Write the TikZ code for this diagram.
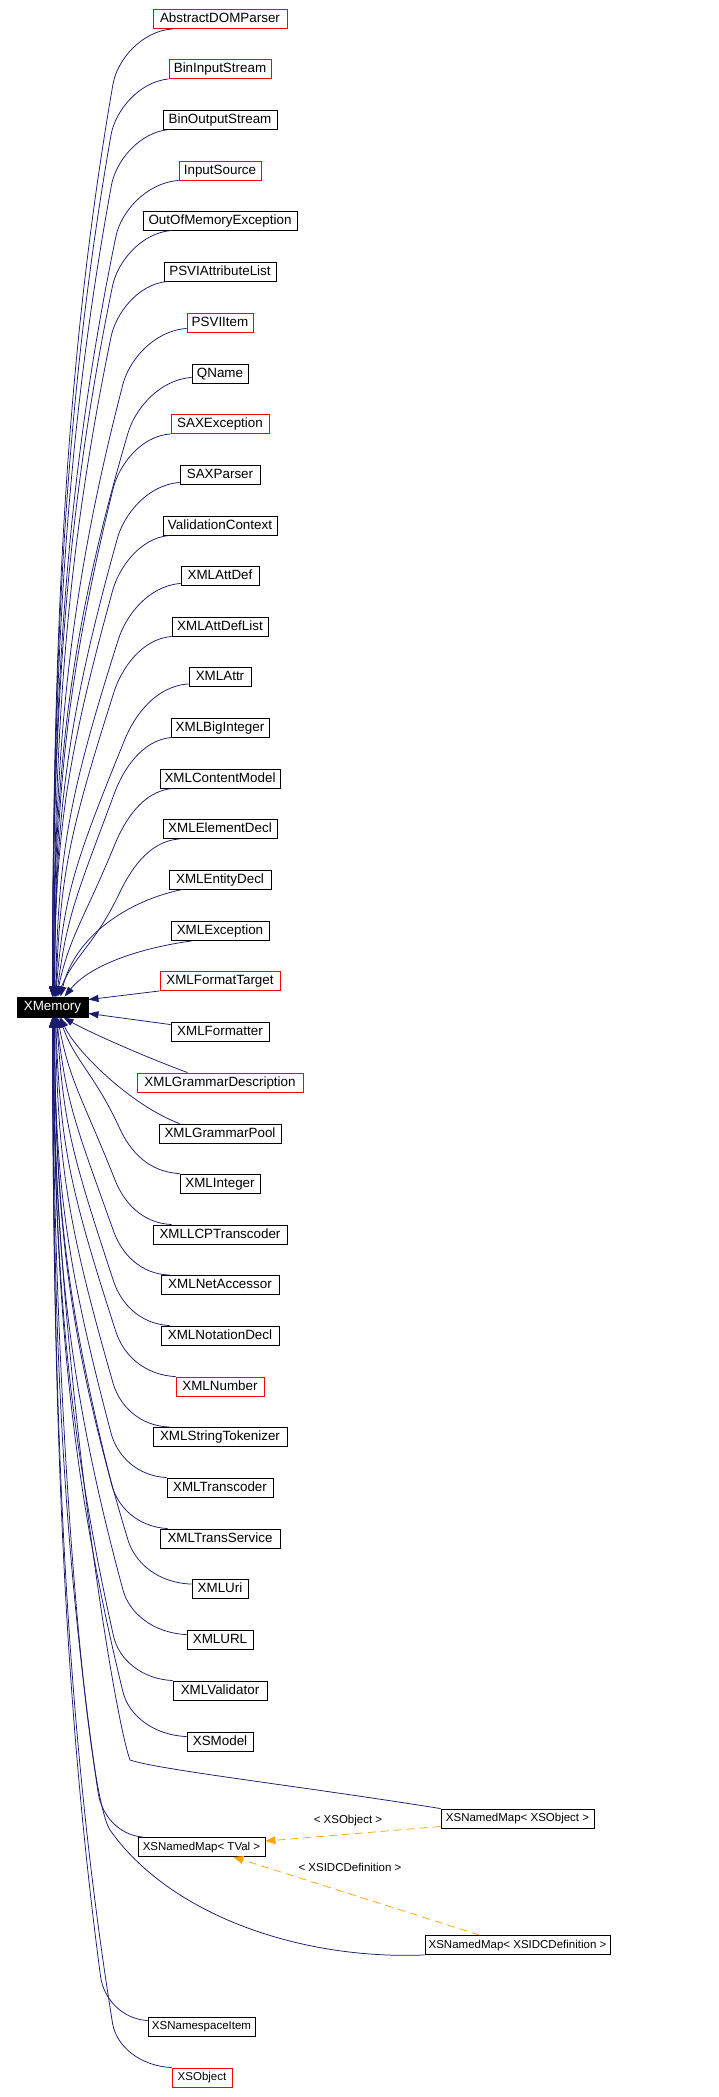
\documentclass[tikz,border=0pt]{standalone}
\usepackage{fontspec}
\setmainfont{Liberation Sans}
\usetikzlibrary{arrows.meta}
\definecolor{edgeblue}{HTML}{191970}
\definecolor{edgeorange}{HTML}{FFA500}
\definecolor{boxred}{HTML}{FF0000}
% edge from a node above XMemory: #1 start, #2 #3 start (image coords), #4 end x, #5 end
\newcommand\fanup[5]{%
 \pgfmathsetmacro\fW{min(64,0.5*(#2-#4))}%
 \pgfmathsetmacro\fTx{#2-\fW}%
 \pgfmathsetmacro\fTy{#3+56}%
 \pgfmathsetmacro\fAx{#2-0.53*\fW}%
 \pgfmathsetmacro\fAy{#3+3}%
 \pgfmathsetmacro\fD{997-\fTy}%
 \pgfmathsetmacro\fUx{#4-\fTx}%
 \pgfmathsetmacro\fUy{100+0.27*\fD}%
 \pgfmathsetmacro\fUl{veclen(\fUx,\fUy)}%
 \pgfmathsetmacro\fBx{\fTx-\fUx/\fUl*24}%
 \pgfmathsetmacro\fBy{\fTy-\fUy/\fUl*24}%
 \pgfmathsetmacro\fK{min(0.8,0.5*\fD/\fUy)}%
 \pgfmathsetmacro\fCx{\fTx+\fK*\fUx}%
 \pgfmathsetmacro\fCy{\fTy+\fK*\fUy}%
 \pgfmathsetmacro\fF{max(0,1-\fD/400)}%
 \pgfmathsetmacro\fDx{#4-\fF*0.35*\fUx}%
 \pgfmathsetmacro\fDy{997-0.4*\fD}%
 \draw[edge] #1 .. controls (\fAx,\fAy) and (\fBx,\fBy) .. (\fTx,\fTy)
   .. controls (\fCx,\fCy) and (\fDx,\fDy) .. #5;%
}
% edge from a node below XMemory
\newcommand\fandown[5]{%
 \pgfmathsetmacro\fW{min(64,0.5*(#2-#4))}%
 \pgfmathsetmacro\fTx{#2-\fW}%
 \pgfmathsetmacro\fTy{#3-45}%
 \pgfmathsetmacro\fAx{#2-0.53*\fW}%
 \pgfmathsetmacro\fAy{#3-2}%
 \pgfmathsetmacro\fD{\fTy-1017}%
 \pgfmathsetmacro\fUx{#4-\fTx}%
 \pgfmathsetmacro\fUy{100+0.27*\fD}%
 \pgfmathsetmacro\fUl{veclen(\fUx,\fUy)}%
 \pgfmathsetmacro\fBx{\fTx-\fUx/\fUl*24}%
 \pgfmathsetmacro\fBy{\fTy+\fUy/\fUl*24}%
 \pgfmathsetmacro\fK{min(0.8,0.5*\fD/\fUy)}%
 \pgfmathsetmacro\fCx{\fTx+\fK*\fUx}%
 \pgfmathsetmacro\fCy{\fTy-\fK*\fUy}%
 \pgfmathsetmacro\fF{max(0,1-\fD/400)}%
 \pgfmathsetmacro\fDx{#4-\fF*0.35*\fUx}%
 \pgfmathsetmacro\fDy{1017+0.4*\fD}%
 \draw[edge] #1 .. controls (\fAx,\fAy) and (\fBx,\fBy) .. (\fTx,\fTy)
   .. controls (\fCx,\fCy) and (\fDx,\fDy) .. #5;%
}
\begin{document}
\begin{tikzpicture}[x=1pt,y=-1pt,
  cls/.style={draw=black, line width=0.9pt, minimum height=19pt, inner xsep=1pt, inner ysep=0pt,
    font=\fontsize{13.4}{15}\selectfont, text height=9.7pt, text depth=2.6pt},
  redcls/.style={cls, draw=boxred},
  smallfont/.style={font=\fontsize{11.5}{14}\selectfont, text height=8.5pt, text depth=2.3pt},
  edge/.style={draw=edgeblue, line width=0.75pt, -{Triangle[length=10pt,width=7pt]}},
  dashedge/.style={draw=edgeorange, line width=0.75pt, dash pattern=on 8pt off 5pt, -{Triangle[length=10pt,width=8pt,fill=edgeorange]}},
  lbl/.style={inner sep=0pt, font=\fontsize{11.5}{14}\selectfont}
]
\useasboundingbox (0,0) rectangle (718,2097);

% root
\node[cls, fill=black, text=white, minimum width=71pt, minimum height=20pt] (xm) at (52.5,1007) {XMemory};

% left column
\node[redcls, minimum width=134pt] (adp)  at (220,19)    {AbstractDOMParser};
\node[redcls, minimum width=102pt] (bis)  at (220,69)    {BinInputStream};
\node[cls,    minimum width=114pt] (bos)  at (220,119.5) {BinOutputStream};
\node[redcls, minimum width=82pt]  (ins)  at (220,170.5) {InputSource};
\node[cls,    minimum width=154pt] (oome) at (220,220.5) {OutOfMemoryException};
\node[cls,    minimum width=112pt] (psal) at (220,271.5) {PSVIAttributeList};
\node[redcls, minimum width=66pt]  (psi)  at (220,322.5) {PSVIItem};
\node[cls,    minimum width=56pt]  (qn)   at (220,373.5) {QName};
\node[redcls, minimum width=98pt]  (saxe) at (220,424)   {SAXException};
\node[cls,    minimum width=80pt]  (saxp) at (220,474.5) {SAXParser};
\node[cls,    minimum width=114pt] (vc)   at (220,525.5) {ValidationContext};
\node[cls,    minimum width=78pt]  (ad)   at (220,575.5) {XMLAttDef};
\node[cls,    minimum width=96pt]  (adl)  at (220,626.5) {XMLAttDefList};
\node[cls,    minimum width=62pt]  (attr) at (220,677)   {XMLAttr};
\node[cls,    minimum width=98pt]  (bigi) at (220,727.5) {XMLBigInteger};
\node[cls,    minimum width=120pt] (cm)   at (220,778.5) {XMLContentModel};
\node[cls,    minimum width=114pt] (ed)   at (220,829)   {XMLElementDecl};
\node[cls,    minimum width=102pt] (ent)  at (220,879.5) {XMLEntityDecl};
\node[cls,    minimum width=98pt]  (exc)  at (220,931)   {XMLException};
\node[redcls, minimum width=120pt] (fmt)  at (220,981)   {XMLFormatTarget};
\node[cls,    minimum width=98pt]  (fmtr) at (220,1031.5){XMLFormatter};
\node[redcls, minimum width=166pt] (gd)   at (220,1082.5){XMLGrammarDescription};
\node[cls,    minimum width=122pt] (gp)   at (220,1133.5){XMLGrammarPool};
\node[cls,    minimum width=80pt]  (int)  at (220,1183.5){XMLInteger};
\node[cls,    minimum width=134pt] (lcp)  at (220,1234.5){XMLLCPTranscoder};
\node[cls,    minimum width=118pt] (net)  at (220,1285)  {XMLNetAccessor};
\node[cls,    minimum width=118pt] (nd)   at (220,1335.5){XMLNotationDecl};
\node[redcls, minimum width=88pt]  (num)  at (220,1386.5){XMLNumber};
\node[cls,    minimum width=134pt] (st)   at (220,1437)  {XMLStringTokenizer};
\node[cls,    minimum width=106pt] (tr)   at (220,1487.5){XMLTranscoder};
\node[cls,    minimum width=120pt] (ts)   at (220,1538.5){XMLTransService};
\node[cls,    minimum width=56pt]  (uri)  at (220,1589)  {XMLUri};
\node[cls,    minimum width=66pt]  (url)  at (220,1639.5){XMLURL};
\node[cls,    minimum width=94pt]  (val)  at (220,1690.5){XMLValidator};
\node[cls,    minimum width=66pt]  (xsm)  at (220,1741.5){XSModel};

% lower part
\node[cls, smallfont, minimum width=153pt] (nmo)  at (517.5,1818.5) {XSNamedMap< XSObject >};
\node[cls, smallfont, minimum width=127pt] (tval) at (201.5,1847)   {XSNamedMap< TVal >};
\node[cls, smallfont, minimum width=185pt] (nmi)  at (517.5,1945)   {XSNamedMap< XSIDCDefinition >};
\node[cls, smallfont, minimum width=107pt] (nsi)  at (201.5,2026.5) {XSNamespaceItem};
\node[redcls, smallfont, minimum width=60pt] (xso) at (202,2077.5)  {XSObject};

% edges from above
\fanup{([xshift=20pt]adp.south west)}{173}{28}{53}{([xshift=36pt]xm.north west)}
\fanup{(bis.south west)}{169}{79}{53}{([xshift=36pt]xm.north west)}
\fanup{([xshift=7pt]bos.south west)}{170}{129}{53}{([xshift=36pt]xm.north west)}
\fanup{(ins.south west)}{179}{180}{53}{([xshift=36pt]xm.north west)}
\fanup{([xshift=29pt]oome.south west)}{172}{230}{53}{([xshift=36pt]xm.north west)}
\fanup{([xshift=4pt]psal.south west)}{168}{281}{54}{([xshift=37pt]xm.north west)}
\fanup{([yshift=4pt]psi.south west)}{187}{328}{54}{([xshift=37pt]xm.north west)}
\fanup{([yshift=6pt]qn.south west)}{192}{377}{54}{([xshift=37pt]xm.north west)}
\fanup{(saxe.south west)}{171}{433}{55}{([xshift=38pt]xm.north west)}
\fanup{([yshift=2pt]saxp.south west)}{180}{482}{55}{([xshift=38pt]xm.north west)}
\fanup{([xshift=7pt]vc.south west)}{170}{535}{55}{([xshift=38pt]xm.north west)}
\fanup{([yshift=2pt]ad.south west)}{181}{583}{56}{([xshift=39pt]xm.north west)}
\fanup{(adl.south west)}{172}{636}{56}{([xshift=39pt]xm.north west)}
\fanup{([yshift=3pt]attr.south west)}{189}{683}{56}{([xshift=39pt]xm.north west)}
\fanup{([xshift=1pt]bigi.south west)}{172}{737}{57}{([xshift=40pt]xm.north west)}
\fanup{([xshift=13pt]cm.south west)}{173}{788}{57}{([xshift=40pt]xm.north west)}
\fanup{([xshift=17pt]ed.south west)}{180}{838}{58}{([xshift=41pt]xm.north west)}
\draw[edge] ([xshift=14pt]ent.south west) .. controls (130,900) and (75,935) .. ([xshift=44pt]xm.north west);
\draw[edge] ([xshift=21pt]exc.south west) .. controls (140,948) and (90,965) .. ([xshift=48pt]xm.north west);
\draw[edge] (fmt.south west) -- ([yshift=-3pt]xm.north east);
\draw[edge] ([yshift=-3pt]fmtr.north west) -- ([yshift=4pt]xm.south east);
\draw[edge] ([xshift=51pt]gd.north west) .. controls (140,1055) and (85,1030) .. ([xshift=47pt]xm.south west);
\draw[edge] ([xshift=21pt]gp.north west) .. controls (130,1105) and (75,1050) .. ([xshift=44pt]xm.south west);

% edges from below
\fandown{(int.north west)}{180}{1174}{60}{([xshift=43pt]xm.south west)}
\fandown{([xshift=19pt]lcp.north west)}{172}{1225}{58}{([xshift=41pt]xm.south west)}
\fandown{([xshift=9pt]net.north west)}{170}{1276}{57}{([xshift=40pt]xm.south west)}
\fandown{([xshift=9pt]nd.north west)}{170}{1326}{57}{([xshift=40pt]xm.south west)}
\fandown{(num.north west)}{176}{1377}{56}{([xshift=39pt]xm.south west)}
\fandown{([xshift=17pt]st.north west)}{170}{1428}{56}{([xshift=39pt]xm.south west)}
\fandown{(tr.north west)}{167}{1478}{55}{([xshift=38pt]xm.south west)}
\fandown{([xshift=8pt]ts.north west)}{168}{1529}{55}{([xshift=38pt]xm.south west)}
\fandown{([yshift=-5pt]uri.north west)}{192}{1585}{55}{([xshift=38pt]xm.south west)}
\fandown{([yshift=-5pt]url.north west)}{187}{1635}{54}{([xshift=37pt]xm.south west)}
\fandown{(val.north west)}{173}{1681}{54}{([xshift=37pt]xm.south west)}
\fandown{([yshift=-5pt]xsm.north west)}{187}{1737}{54}{([xshift=37pt]xm.south west)}
\draw[edge] (nmo.north west) .. controls (300,1786) and (160,1770) .. (130,1760)
            .. controls (112,1710) and (53,1330) .. ([xshift=36pt]xm.south west);
\fandown{([xshift=5pt]tval.north west)}{143}{1837}{53}{([xshift=36pt]xm.south west)}
\draw[edge] (nmi.south west) .. controls (300,1960) and (170,1915) .. (110,1830)
            .. controls (85,1790) and (53,1400) .. ([xshift=36pt]xm.south west);
\fandown{([yshift=-4pt]nsi.north west)}{148}{2021}{53}{([xshift=36pt]xm.south west)}
\fandown{(xso.north west)}{172}{2068}{53}{([xshift=36pt]xm.south west)}

% template instantiation edges
\draw[dashedge] ([yshift=2pt]nmo.south west) -- ([yshift=-4pt]tval.north east);
\draw[dashedge] ([xshift=55pt]nmi.north west) -- ([xshift=-32pt]tval.south east);
\node[lbl] (lblo) at (348,1821) {< XSObject >};
\node[lbl] (lbli) at (350,1867) {< XSIDCDefinition >};
\end{tikzpicture}
\end{document}
